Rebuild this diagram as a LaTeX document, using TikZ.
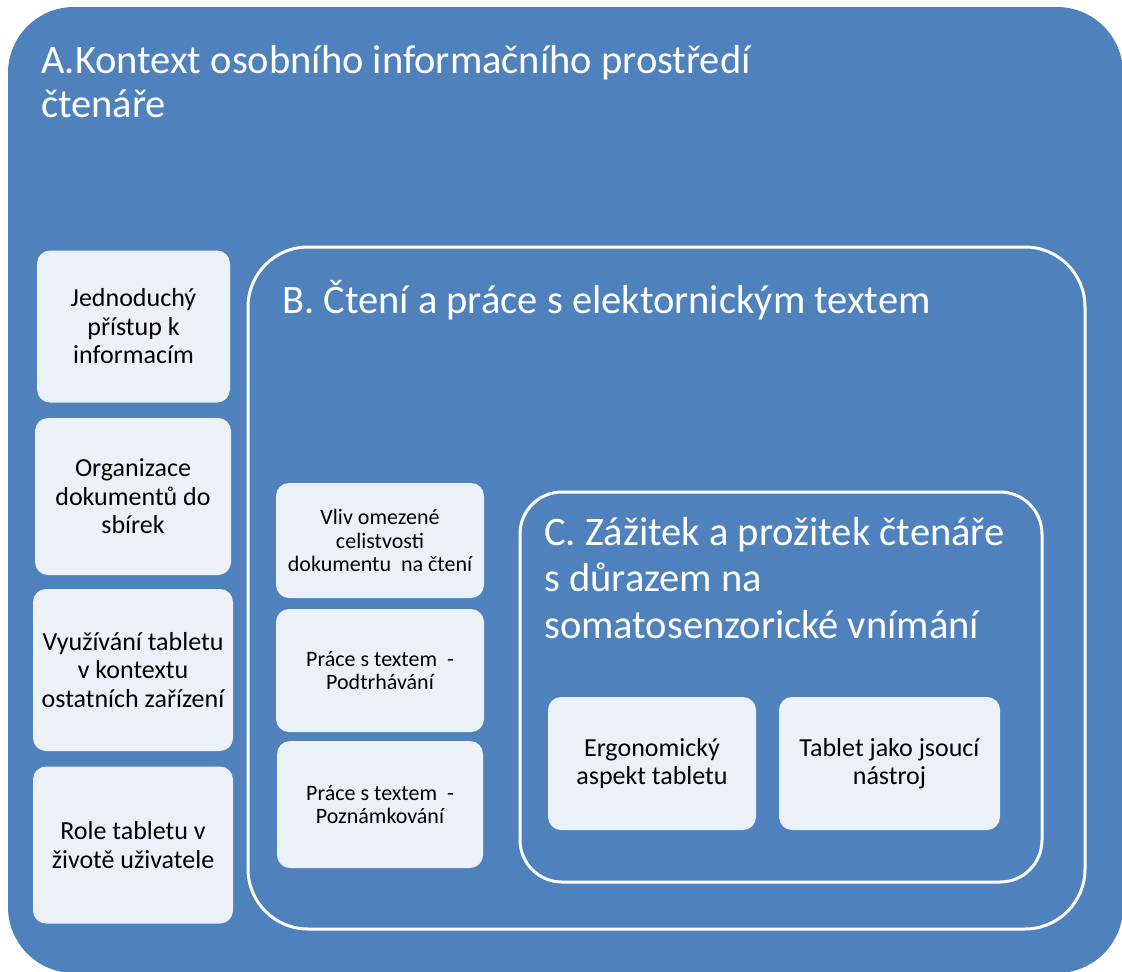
\documentclass[tikz,border=0pt]{standalone}
\usepackage{fontspec}
\setmainfont{Carlito}
\definecolor{boxblue}{RGB}{79,129,189}
\definecolor{paleblue}{RGB}{236,241,248}
\begin{document}
\begin{tikzpicture}[x=1pt,y=-1pt,line cap=round,line join=round,
  leaf/.style 2 args={fill=paleblue,rounded corners=13pt,align=center,text=black,inner sep=0pt,minimum width=#1,minimum height=#2},
  frame/.style={draw=white,line width=3pt,inner sep=0pt},
  heading/.style={anchor=base west,align=left,text=white,inner sep=0pt}]
\useasboundingbox (0,0) rectangle (1122,972);
\clip (0,0) rectangle (1122,972);
\node [fill=boxblue,rounded corners=66pt,minimum width=1115pt,minimum height=966pt,inner sep=0pt] (ctxA) at (565.5,490) {};
\node [frame,rounded corners=60pt,minimum width=837pt,minimum height=682pt] (ctxB) at (666.5,588) {};
\node [frame,rounded corners=42pt,minimum width=522pt,minimum height=390pt] (ctxC) at (781,687) {};
\node [heading,font=\fontsize{40.5}{44}\selectfont] (titleA) at (41,117) {A.Kontext osobního informačního prostředí\\čtenáře};
\node [heading,font=\fontsize{40.5}{44}\selectfont] (titleB) at (282,313) {B. Čtení a práce s elektornickým textem};
\node [heading,font=\fontsize{40.5}{46.5}\selectfont] (titleC) at (544,638) {C. Zážitek a prožitek čtenáře\\s důrazem na\\somatosenzorické vnímání};
\begin{scope}[font=\fontsize{26}{28.5}\selectfont]
\node [leaf={193pt}{152pt}] (pristup) at (133.5,326.5) {Jednoduchý\\přístup k\\informacím};
\node [leaf={196pt}{157pt}] (sbirky) at (133,496.5) {Organizace\\dokumentů do\\sbírek};
\node [leaf={200pt}{162pt}] (zarizeni) at (133,670) {Využívání tabletu\\v kontextu\\ostatních zařízení};
\node [leaf={200pt}{157pt}] (role) at (133,845) {Role tabletu v\\životě uživatele};
\end{scope}
\begin{scope}[font=\fontsize{22}{23.5}\selectfont]
\node [leaf={208pt}{115pt}] (celistvost) at (380,540.5) {Vliv omezené\\celistvosti\\dokumentu\ \ na čtení};
\node [leaf={208pt}{123pt}] (podtrhavani) at (380,670.5) {Práce s textem\ \ -\\Podtrhávání};
\node [leaf={206pt}{127pt}] (poznamkovani) at (380,804.5) {Práce s textem\ \ -\\Poznámkování};
\end{scope}
\begin{scope}[font=\fontsize{26}{28}\selectfont]
\node [leaf={208pt}{133pt}] (ergonomie) at (652,763.5) {Ergonomický\\aspekt tabletu};
\node [leaf={221pt}{133pt}] (nastroj) at (889.5,763.5) {Tablet jako jsoucí\\nástroj};
\end{scope}
\end{tikzpicture}
\end{document}
